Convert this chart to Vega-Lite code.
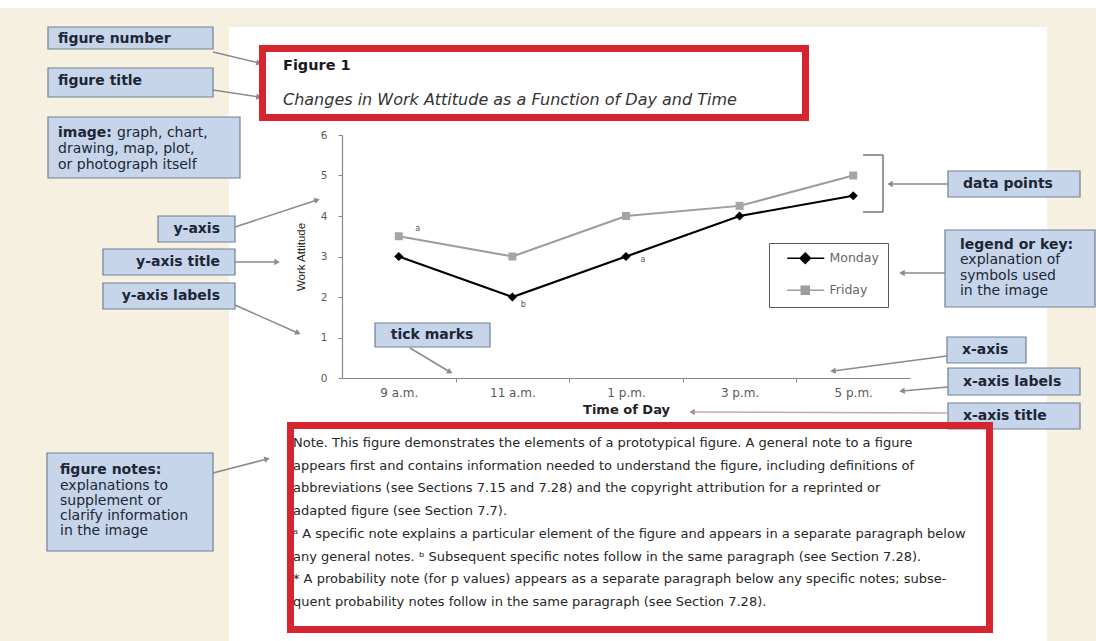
{
"$schema": "https://vega.github.io/schema/vega-lite/v6.json",
"width": 568,
"height": 243,
"autosize": {"type": "none"},
"padding": {"left": 342, "top": 135, "right": 186, "bottom": 263},
"background": "#ffffff",
"config": {"view": {"stroke": null}, "font": "DejaVu Sans"},
"datasets": {
"attitude": [
{"time": "9 a.m.", "hour": 9, "day": "Monday", "attitude": 3, "note": ""},
{"time": "11 a.m.", "hour": 11, "day": "Monday", "attitude": 2, "note": "b"},
{"time": "1 p.m.", "hour": 13, "day": "Monday", "attitude": 3, "note": "a"},
{"time": "3 p.m.", "hour": 15, "day": "Monday", "attitude": 4, "note": ""},
{"time": "5 p.m.", "hour": 17, "day": "Monday", "attitude": 4.5, "note": ""},
{"time": "9 a.m.", "hour": 9, "day": "Friday", "attitude": 3.5, "note": "a"},
{"time": "11 a.m.", "hour": 11, "day": "Friday", "attitude": 3, "note": ""},
{"time": "1 p.m.", "hour": 13, "day": "Friday", "attitude": 4, "note": ""},
{"time": "3 p.m.", "hour": 15, "day": "Friday", "attitude": 4.25, "note": ""},
{"time": "5 p.m.", "hour": 17, "day": "Friday", "attitude": 5, "note": ""}
]
},
"layer": [
{"data": {"values": [{}]}, "mark": {"type": "rect", "fill": "#f6f0e1"}, "encoding": {"x": {"datum": 1.85}, "x2": {"datum": 21.4}, "y": {"datum": 9.136}, "y2": {"datum": -6.6}}},
{"data": {"values": [{}]}, "mark": {"type": "rect", "fill": "#ffffff"}, "encoding": {"x": {"datum": 6.011}, "x2": {"datum": 20.412}, "y": {"datum": 8.667}, "y2": {"datum": -6.6}}},

{"data": {"values": [{}]}, "mark": {"type": "rect", "fill": "#c6d5e9", "stroke": "#6f8096", "strokeWidth": 1.2}, "encoding": {"x": {"datum": 2.824}, "x2": {"datum": 5.729}, "y": {"datum": 8.667}, "y2": {"datum": 8.123}}},
{"data": {"values": [{}]}, "mark": {"type": "text", "fontSize": 14, "fontWeight": "bold", "color": "#1d2636", "align": "left", "baseline": "middle"}, "encoding": {"x": {"datum": 3.0}, "y": {"datum": 8.37}, "text": {"value": "figure number"}}},

{"data": {"values": [{}]}, "mark": {"type": "rect", "fill": "#c6d5e9", "stroke": "#6f8096", "strokeWidth": 1.2}, "encoding": {"x": {"datum": 2.824}, "x2": {"datum": 5.729}, "y": {"datum": 7.654}, "y2": {"datum": 6.938}}},
{"data": {"values": [{}]}, "mark": {"type": "text", "fontSize": 14, "fontWeight": "bold", "color": "#1d2636", "align": "left", "baseline": "middle"}, "encoding": {"x": {"datum": 3.0}, "y": {"datum": 7.333}, "text": {"value": "figure title"}}},

{"data": {"values": [{}]}, "mark": {"type": "rect", "fill": "#c6d5e9", "stroke": "#6f8096", "strokeWidth": 1.2}, "encoding": {"x": {"datum": 2.824}, "x2": {"datum": 6.204}, "y": {"datum": 6.444}, "y2": {"datum": 4.938}}},
{"data": {"values": [{}]}, "mark": {"type": "text", "fontSize": 14, "fontWeight": "bold", "color": "#1d2636", "align": "left", "baseline": "middle"}, "encoding": {"x": {"datum": 3.0}, "y": {"datum": 6.049}, "text": {"value": "image:"}}},
{"data": {"values": [{}]}, "mark": {"type": "text", "fontSize": 14, "color": "#1d2636", "align": "left", "baseline": "middle"}, "encoding": {"x": {"datum": 4.039}, "y": {"datum": 6.049}, "text": {"value": "graph, chart,"}}},
{"data": {"values": [{}]}, "mark": {"type": "text", "fontSize": 14, "color": "#1d2636", "align": "left", "baseline": "middle", "lineHeight": 16}, "encoding": {"x": {"datum": 3.0}, "y": {"datum": 5.654}, "text": {"value": ["drawing, map, plot,", "or photograph itself"]}}},

{"data": {"values": [{}]}, "mark": {"type": "rect", "fill": "#c6d5e9", "stroke": "#6f8096", "strokeWidth": 1.2}, "encoding": {"x": {"datum": 4.761}, "x2": {"datum": 6.116}, "y": {"datum": 4.0}, "y2": {"datum": 3.358}}},
{"data": {"values": [{}]}, "mark": {"type": "text", "fontSize": 14, "fontWeight": "bold", "color": "#1d2636", "align": "right", "baseline": "middle"}, "encoding": {"x": {"datum": 5.852}, "y": {"datum": 3.679}, "text": {"value": "y-axis"}}},

{"data": {"values": [{}]}, "mark": {"type": "rect", "fill": "#c6d5e9", "stroke": "#6f8096", "strokeWidth": 1.2}, "encoding": {"x": {"datum": 3.792}, "x2": {"datum": 6.116}, "y": {"datum": 3.185}, "y2": {"datum": 2.543}}},
{"data": {"values": [{}]}, "mark": {"type": "text", "fontSize": 14, "fontWeight": "bold", "color": "#1d2636", "align": "right", "baseline": "middle"}, "encoding": {"x": {"datum": 5.852}, "y": {"datum": 2.864}, "text": {"value": "y-axis title"}}},

{"data": {"values": [{}]}, "mark": {"type": "rect", "fill": "#c6d5e9", "stroke": "#6f8096", "strokeWidth": 1.2}, "encoding": {"x": {"datum": 3.792}, "x2": {"datum": 6.116}, "y": {"datum": 2.346}, "y2": {"datum": 1.704}}},
{"data": {"values": [{}]}, "mark": {"type": "text", "fontSize": 14, "fontWeight": "bold", "color": "#1d2636", "align": "right", "baseline": "middle"}, "encoding": {"x": {"datum": 5.852}, "y": {"datum": 2.025}, "text": {"value": "y-axis labels"}}},

{"data": {"values": [{}]}, "mark": {"type": "rect", "fill": "#c6d5e9", "stroke": "#6f8096", "strokeWidth": 1.2}, "encoding": {"x": {"datum": 8.581}, "x2": {"datum": 10.606}, "y": {"datum": 1.358}, "y2": {"datum": 0.765}}},
{"data": {"values": [{}]}, "mark": {"type": "text", "fontSize": 14, "fontWeight": "bold", "color": "#1d2636", "align": "center", "baseline": "middle"}, "encoding": {"x": {"datum": 9.585}, "y": {"datum": 1.062}, "text": {"value": "tick marks"}}},

{"data": {"values": [{}]}, "mark": {"type": "rect", "fill": "#c6d5e9", "stroke": "#6f8096", "strokeWidth": 1.2}, "encoding": {"x": {"datum": 18.669}, "x2": {"datum": 20.993}, "y": {"datum": 5.111}, "y2": {"datum": 4.469}}},
{"data": {"values": [{}]}, "mark": {"type": "text", "fontSize": 14, "fontWeight": "bold", "color": "#1d2636", "align": "left", "baseline": "middle"}, "encoding": {"x": {"datum": 18.933}, "y": {"datum": 4.79}, "text": {"value": "data points"}}},

{"data": {"values": [{}]}, "mark": {"type": "rect", "fill": "#c6d5e9", "stroke": "#6f8096", "strokeWidth": 1.2}, "encoding": {"x": {"datum": 18.616}, "x2": {"datum": 21.257}, "y": {"datum": 3.654}, "y2": {"datum": 1.753}}},
{"data": {"values": [{}]}, "mark": {"type": "text", "fontSize": 14, "fontWeight": "bold", "color": "#1d2636", "align": "left", "baseline": "middle"}, "encoding": {"x": {"datum": 18.88}, "y": {"datum": 3.284}, "text": {"value": "legend or key:"}}},
{"data": {"values": [{}]}, "mark": {"type": "text", "fontSize": 14, "color": "#1d2636", "align": "left", "baseline": "middle", "lineHeight": 15.7}, "encoding": {"x": {"datum": 18.88}, "y": {"datum": 2.914}, "text": {"value": ["explanation of", "symbols used", "in the image"]}}},

{"data": {"values": [{}]}, "mark": {"type": "rect", "fill": "#c6d5e9", "stroke": "#6f8096", "strokeWidth": 1.2}, "encoding": {"x": {"datum": 18.651}, "x2": {"datum": 20.042}, "y": {"datum": 1.012}, "y2": {"datum": 0.37}}},
{"data": {"values": [{}]}, "mark": {"type": "text", "fontSize": 14, "fontWeight": "bold", "color": "#1d2636", "align": "left", "baseline": "middle"}, "encoding": {"x": {"datum": 18.915}, "y": {"datum": 0.691}, "text": {"value": "x-axis"}}},

{"data": {"values": [{}]}, "mark": {"type": "rect", "fill": "#c6d5e9", "stroke": "#6f8096", "strokeWidth": 1.2}, "encoding": {"x": {"datum": 18.669}, "x2": {"datum": 20.993}, "y": {"datum": 0.247}, "y2": {"datum": -0.42}}},
{"data": {"values": [{}]}, "mark": {"type": "text", "fontSize": 14, "fontWeight": "bold", "color": "#1d2636", "align": "left", "baseline": "middle"}, "encoding": {"x": {"datum": 18.933}, "y": {"datum": -0.099}, "text": {"value": "x-axis labels"}}},

{"data": {"values": [{}]}, "mark": {"type": "rect", "fill": "#c6d5e9", "stroke": "#6f8096", "strokeWidth": 1.2}, "encoding": {"x": {"datum": 18.669}, "x2": {"datum": 20.993}, "y": {"datum": -0.617}, "y2": {"datum": -1.259}}},
{"data": {"values": [{}]}, "mark": {"type": "text", "fontSize": 14, "fontWeight": "bold", "color": "#1d2636", "align": "left", "baseline": "middle"}, "encoding": {"x": {"datum": 18.933}, "y": {"datum": -0.938}, "text": {"value": "x-axis title"}}},

{"data": {"values": [{}]}, "mark": {"type": "rect", "fill": "#c6d5e9", "stroke": "#6f8096", "strokeWidth": 1.2}, "encoding": {"x": {"datum": 2.806}, "x2": {"datum": 5.729}, "y": {"datum": -1.852}, "y2": {"datum": -4.272}}},
{"data": {"values": [{}]}, "mark": {"type": "text", "fontSize": 14, "fontWeight": "bold", "color": "#1d2636", "align": "left", "baseline": "middle"}, "encoding": {"x": {"datum": 3.035}, "y": {"datum": -2.272}, "text": {"value": "figure notes:"}}},
{"data": {"values": [{}]}, "mark": {"type": "text", "fontSize": 14, "color": "#1d2636", "align": "left", "baseline": "middle", "lineHeight": 15}, "encoding": {"x": {"datum": 3.035}, "y": {"datum": -2.667}, "text": {"value": ["explanations to", "supplement or", "clarify information", "in the image"]}}},

{"data": {"values": [{}]}, "mark": {"type": "rule", "color": "#8a8a8a", "strokeWidth": 1.5}, "encoding": {"x": {"datum": 5.729}, "y": {"datum": 8.049}, "x2": {"datum": 6.539}, "y2": {"datum": 7.778}}},
{"data": {"values": [{}]}, "mark": {"type": "point", "shape": "triangle-right", "filled": true, "opacity": 1, "size": 40, "color": "#8a8a8a", "angle": 13.4}, "encoding": {"x": {"datum": 6.539}, "y": {"datum": 7.778}}},
{"data": {"values": [{}]}, "mark": {"type": "rule", "color": "#8a8a8a", "strokeWidth": 1.5}, "encoding": {"x": {"datum": 5.729}, "y": {"datum": 7.111}, "x2": {"datum": 6.539}, "y2": {"datum": 6.938}}},
{"data": {"values": [{}]}, "mark": {"type": "point", "shape": "triangle-right", "filled": true, "opacity": 1, "size": 40, "color": "#8a8a8a", "angle": 8.7}, "encoding": {"x": {"datum": 6.539}, "y": {"datum": 6.938}}},
{"data": {"values": [{}]}, "mark": {"type": "rule", "color": "#8a8a8a", "strokeWidth": 1.5}, "encoding": {"x": {"datum": 6.116}, "y": {"datum": 3.728}, "x2": {"datum": 7.56}, "y2": {"datum": 4.395}}},
{"data": {"values": [{}]}, "mark": {"type": "point", "shape": "triangle-right", "filled": true, "opacity": 1, "size": 40, "color": "#8a8a8a", "angle": 341.8}, "encoding": {"x": {"datum": 7.56}, "y": {"datum": 4.395}}},
{"data": {"values": [{}]}, "mark": {"type": "rule", "color": "#8a8a8a", "strokeWidth": 1.5}, "encoding": {"x": {"datum": 6.116}, "y": {"datum": 2.864}, "x2": {"datum": 6.856}, "y2": {"datum": 2.864}}},
{"data": {"values": [{}]}, "mark": {"type": "point", "shape": "triangle-right", "filled": true, "opacity": 1, "size": 40, "color": "#8a8a8a", "angle": 0}, "encoding": {"x": {"datum": 6.856}, "y": {"datum": 2.864}}},
{"data": {"values": [{}]}, "mark": {"type": "rule", "color": "#8a8a8a", "strokeWidth": 1.5}, "encoding": {"x": {"datum": 6.116}, "y": {"datum": 1.802}, "x2": {"datum": 7.225}, "y2": {"datum": 1.111}}},
{"data": {"values": [{}]}, "mark": {"type": "point", "shape": "triangle-right", "filled": true, "opacity": 1, "size": 40, "color": "#8a8a8a", "angle": 24}, "encoding": {"x": {"datum": 7.225}, "y": {"datum": 1.111}}},
{"data": {"values": [{}]}, "mark": {"type": "rule", "color": "#8a8a8a", "strokeWidth": 1.5}, "encoding": {"x": {"datum": 9.197}, "y": {"datum": 0.741}, "x2": {"datum": 9.901}, "y2": {"datum": 0.148}}},
{"data": {"values": [{}]}, "mark": {"type": "point", "shape": "triangle-right", "filled": true, "opacity": 1, "size": 40, "color": "#8a8a8a", "angle": 28.8}, "encoding": {"x": {"datum": 9.901}, "y": {"datum": 0.148}}},
{"data": {"values": [{}]}, "mark": {"type": "rule", "color": "#8a8a8a", "strokeWidth": 1.5}, "encoding": {"x": {"datum": 18.669}, "y": {"datum": 4.79}, "x2": {"datum": 17.648}, "y2": {"datum": 4.79}}},
{"data": {"values": [{}]}, "mark": {"type": "point", "shape": "triangle-right", "filled": true, "opacity": 1, "size": 40, "color": "#8a8a8a", "angle": 180}, "encoding": {"x": {"datum": 17.648}, "y": {"datum": 4.79}}},
{"data": {"values": [{}]}, "mark": {"type": "rule", "color": "#8a8a8a", "strokeWidth": 1.5}, "encoding": {"x": {"datum": 18.616}, "y": {"datum": 2.593}, "x2": {"datum": 17.859}, "y2": {"datum": 2.593}}},
{"data": {"values": [{}]}, "mark": {"type": "point", "shape": "triangle-right", "filled": true, "opacity": 1, "size": 40, "color": "#8a8a8a", "angle": 180}, "encoding": {"x": {"datum": 17.859}, "y": {"datum": 2.593}}},
{"data": {"values": [{}]}, "mark": {"type": "rule", "color": "#8a8a8a", "strokeWidth": 1.5}, "encoding": {"x": {"datum": 18.651}, "y": {"datum": 0.543}, "x2": {"datum": 16.644}, "y2": {"datum": 0.173}}},
{"data": {"values": [{}]}, "mark": {"type": "point", "shape": "triangle-right", "filled": true, "opacity": 1, "size": 40, "color": "#8a8a8a", "angle": 172.5}, "encoding": {"x": {"datum": 16.644}, "y": {"datum": 0.173}}},
{"data": {"values": [{}]}, "mark": {"type": "rule", "color": "#8a8a8a", "strokeWidth": 1.5}, "encoding": {"x": {"datum": 18.669}, "y": {"datum": -0.222}, "x2": {"datum": 17.859}, "y2": {"datum": -0.321}}},
{"data": {"values": [{}]}, "mark": {"type": "point", "shape": "triangle-right", "filled": true, "opacity": 1, "size": 40, "color": "#8a8a8a", "angle": 175}, "encoding": {"x": {"datum": 17.859}, "y": {"datum": -0.321}}},
{"data": {"values": [{}]}, "mark": {"type": "rule", "color": "#c9a3b5", "strokeWidth": 1.5}, "encoding": {"x": {"datum": 18.669}, "y": {"datum": -0.864}, "x2": {"datum": 14.162}, "y2": {"datum": -0.84}}},
{"data": {"values": [{}]}, "mark": {"type": "point", "shape": "triangle-right", "filled": true, "opacity": 1, "size": 40, "color": "#a88a98", "angle": 180}, "encoding": {"x": {"datum": 14.162}, "y": {"datum": -0.84}}},
{"data": {"values": [{}]}, "mark": {"type": "rule", "color": "#8a8a8a", "strokeWidth": 1.5}, "encoding": {"x": {"datum": 5.729}, "y": {"datum": -2.346}, "x2": {"datum": 6.68}, "y2": {"datum": -2.0}}},
{"data": {"values": [{}]}, "mark": {"type": "point", "shape": "triangle-right", "filled": true, "opacity": 1, "size": 40, "color": "#8a8a8a", "angle": 345.5}, "encoding": {"x": {"datum": 6.68}, "y": {"datum": -2.0}}},

{"data": {"values": [{}]}, "mark": {"type": "rule", "color": "#555555", "strokeWidth": 1.2}, "encoding": {"x": {"datum": 17.525}, "y": {"datum": 5.506}, "x2": {"datum": 17.525}, "y2": {"datum": 4.099}}},
{"data": {"values": [{}]}, "mark": {"type": "rule", "color": "#555555", "strokeWidth": 1.2}, "encoding": {"x": {"datum": 17.173}, "y": {"datum": 5.506}, "x2": {"datum": 17.525}, "y2": {"datum": 5.506}}},
{"data": {"values": [{}]}, "mark": {"type": "rule", "color": "#555555", "strokeWidth": 1.2}, "encoding": {"x": {"datum": 17.173}, "y": {"datum": 4.099}, "x2": {"datum": 17.525}, "y2": {"datum": 4.099}}},

{"data": {"name": "attitude"}, "transform": [{"filter": "datum.day == 'Monday'"}], "mark": {"type": "line", "color": "#000000", "strokeWidth": 2.2},
 "encoding": {
  "x": {"field": "hour", "type": "quantitative", "title": "Time of Day",
        "scale": {"domain": [8, 18], "nice": false, "zero": false},
        "axis": {"title": "Time of Day", "values": [9, 10, 11, 12, 13, 14, 15, 16, 17],
                 "labelExpr": "datum.value == 9 ? '9 a.m.' : datum.value == 11 ? '11 a.m.' : datum.value == 13 ? '1 p.m.' : datum.value == 15 ? '3 p.m.' : datum.value == 17 ? '5 p.m.' : ''",
                 "tickOpacity": {"condition": {"test": "datum.value % 2 == 1", "value": 0}, "value": 1},
                 "tickSize": 4, "tickColor": "#868686", "domainColor": "#868686", "domainWidth": 1.2, "grid": false,
                 "labelFont": "DejaVu Sans", "labelFontSize": 12, "labelColor": "#595959", "labelPadding": 5, "labelFlush": false, "labelOverlap": false,
                 "titleFont": "DejaVu Sans", "titleFontSize": 13, "titleFontWeight": "bold", "titleColor": "#222222", "titlePadding": 5, "zindex": 1}},
  "y": {"field": "attitude", "type": "quantitative", "title": "Work Attitude",
        "scale": {"domain": [0, 6], "nice": false, "zero": false},
        "axis": {"title": "Work Attitude", "values": [0, 1, 2, 3, 4, 5, 6], "tickSize": 4, "tickColor": "#868686", "domainColor": "#868686", "domainWidth": 1.2, "grid": false,
                 "labelFont": "DejaVu Sans", "labelFontSize": 10.5, "labelColor": "#595959", "labelPadding": 11,
                 "titleFont": "Liberation Sans", "titleFontSize": 11.5, "titleFontWeight": "normal", "titleColor": "#222222", "titlePadding": 14, "zindex": 1}}
 }},
{"data": {"name": "attitude"}, "transform": [{"filter": "datum.day == 'Friday'"}], "mark": {"type": "line", "color": "#9c9c9c", "strokeWidth": 2},
 "encoding": {"x": {"field": "hour", "type": "quantitative", "title": "Time of Day"}, "y": {"field": "attitude", "type": "quantitative", "title": "Work Attitude"}}},
{"data": {"name": "attitude"}, "transform": [{"filter": "datum.day == 'Monday'"}], "mark": {"type": "point", "shape": "diamond", "filled": true, "opacity": 1, "size": 85, "color": "#000000"},
 "encoding": {"x": {"field": "hour", "type": "quantitative", "title": "Time of Day"}, "y": {"field": "attitude", "type": "quantitative", "title": "Work Attitude"}}},
{"data": {"name": "attitude"}, "transform": [{"filter": "datum.day == 'Friday'"}], "mark": {"type": "point", "shape": "square", "filled": true, "opacity": 1, "size": 64, "color": "#a5a5a5"},
 "encoding": {"x": {"field": "hour", "type": "quantitative", "title": "Time of Day"}, "y": {"field": "attitude", "type": "quantitative", "title": "Work Attitude"}}},
{"data": {"name": "attitude"}, "transform": [{"filter": "datum.day == 'Friday' && datum.note != ''"}], "mark": {"type": "text", "fontSize": 8, "color": "#555555", "dx": 19, "dy": -7},
 "encoding": {"x": {"field": "hour", "type": "quantitative", "title": "Time of Day"}, "y": {"field": "attitude", "type": "quantitative", "title": "Work Attitude"}, "text": {"field": "note"}}},
{"data": {"name": "attitude"}, "transform": [{"filter": "datum.day == 'Monday' && datum.hour == 11"}], "mark": {"type": "text", "fontSize": 8, "color": "#555555", "dx": 11, "dy": 8},
 "encoding": {"x": {"field": "hour", "type": "quantitative", "title": "Time of Day"}, "y": {"field": "attitude", "type": "quantitative", "title": "Work Attitude"}, "text": {"field": "note"}}},
{"data": {"name": "attitude"}, "transform": [{"filter": "datum.day == 'Monday' && datum.hour == 13"}], "mark": {"type": "text", "fontSize": 8, "color": "#555555", "dx": 17, "dy": 3},
 "encoding": {"x": {"field": "hour", "type": "quantitative", "title": "Time of Day"}, "y": {"field": "attitude", "type": "quantitative", "title": "Work Attitude"}, "text": {"field": "note"}}},

{"data": {"name": "attitude"}, "transform": [{"filter": "false"}], "mark": {"type": "point", "filled": true, "opacity": 1, "size": 64, "strokeWidth": 1.5},
 "encoding": {
  "x": {"field": "hour", "type": "quantitative", "title": "Time of Day"},
  "y": {"field": "attitude", "type": "quantitative", "title": "Work Attitude"},
  "shape": {"field": "day", "type": "nominal", "title": "day",
            "scale": {"domain": ["Monday", "Friday"], "range": ["M0.75,0H10M5.25,-1.3L6.55,0L5.25,1.3L3.95,0Z", "M0.75,0H10M4.25,-1H6.25V1H4.25Z"]},
            "legend": {"title": null, "orient": "none", "legendX": 427, "legendY": 108, "padding": 9, "rowPadding": 16, "labelOffset": 39, "symbolSize": 64, "symbolStrokeWidth": 1.5, "labelFont": "DejaVu Sans", "labelFontSize": 12.5, "labelColor": "#666666", "strokeColor": "#595959", "fillColor": "#ffffff", "zindex": 1}},
  "fill": {"field": "day", "type": "nominal", "title": "day",
           "scale": {"domain": ["Monday", "Friday"], "range": ["#000000", "#9c9c9c"]},
           "legend": {"title": null, "orient": "none", "legendX": 427, "legendY": 108, "padding": 9, "rowPadding": 16, "labelOffset": 39, "symbolSize": 64, "symbolStrokeWidth": 1.5, "labelFont": "DejaVu Sans", "labelFontSize": 12.5, "labelColor": "#666666", "strokeColor": "#595959", "fillColor": "#ffffff", "zindex": 1}},
  "stroke": {"field": "day", "type": "nominal", "title": "day",
             "scale": {"domain": ["Monday", "Friday"], "range": ["#000000", "#9c9c9c"]},
             "legend": {"title": null, "orient": "none", "legendX": 427, "legendY": 108, "padding": 9, "rowPadding": 16, "labelOffset": 39, "symbolSize": 64, "symbolStrokeWidth": 1.5, "labelFont": "DejaVu Sans", "labelFontSize": 12.5, "labelColor": "#666666", "strokeColor": "#595959", "fillColor": "#ffffff", "zindex": 1}}
 }},

{"data": {"values": [{}]}, "mark": {"type": "text", "fontSize": 14.5, "fontWeight": "bold", "color": "#1a1a1a", "align": "left", "baseline": "middle"}, "encoding": {"x": {"datum": 6.961}, "y": {"datum": 7.704}, "text": {"value": "Figure 1"}}},
{"data": {"values": [{}]}, "mark": {"type": "text", "fontSize": 16, "fontStyle": "italic", "color": "#333333", "align": "left", "baseline": "middle"}, "encoding": {"x": {"datum": 6.961}, "y": {"datum": 6.864}, "text": {"value": "Changes in Work Attitude as a Function of Day and Time"}}},
{"data": {"values": [{}]}, "mark": {"type": "text", "fontSize": 13, "color": "#262626", "align": "left", "baseline": "middle", "lineHeight": 22.7}, "encoding": {"x": {"datum": 7.137}, "y": {"datum": -1.605}, "text": {"value": [
"Note. This figure demonstrates the elements of a prototypical figure. A general note to a figure",
"appears first and contains information needed to understand the figure, including definitions of",
"abbreviations (see Sections 7.15 and 7.28) and the copyright attribution for a reprinted or",
"adapted figure (see Section 7.7).",
"ᵃ A specific note explains a particular element of the figure and appears in a separate paragraph below",
"any general notes. ᵇ Subsequent specific notes follow in the same paragraph (see Section 7.28).",
"* A probability note (for p values) appears as a separate paragraph below any specific notes; subse-",
"quent probability notes follow in the same paragraph (see Section 7.28)."
]}}},

{"data": {"values": [{}]}, "mark": {"type": "rect", "filled": false, "color": "#d7252f", "stroke": "#d7252f", "strokeWidth": 7}, "encoding": {"x": {"datum": 6.6}, "x2": {"datum": 16.16}, "y": {"datum": 8.136}, "y2": {"datum": 6.432}}},
{"data": {"values": [{}]}, "mark": {"type": "rect", "filled": false, "color": "#d7252f", "stroke": "#d7252f", "strokeWidth": 7}, "encoding": {"x": {"datum": 7.093}, "x2": {"datum": 19.4}, "y": {"datum": -1.173}, "y2": {"datum": -6.21}}}
]
}
